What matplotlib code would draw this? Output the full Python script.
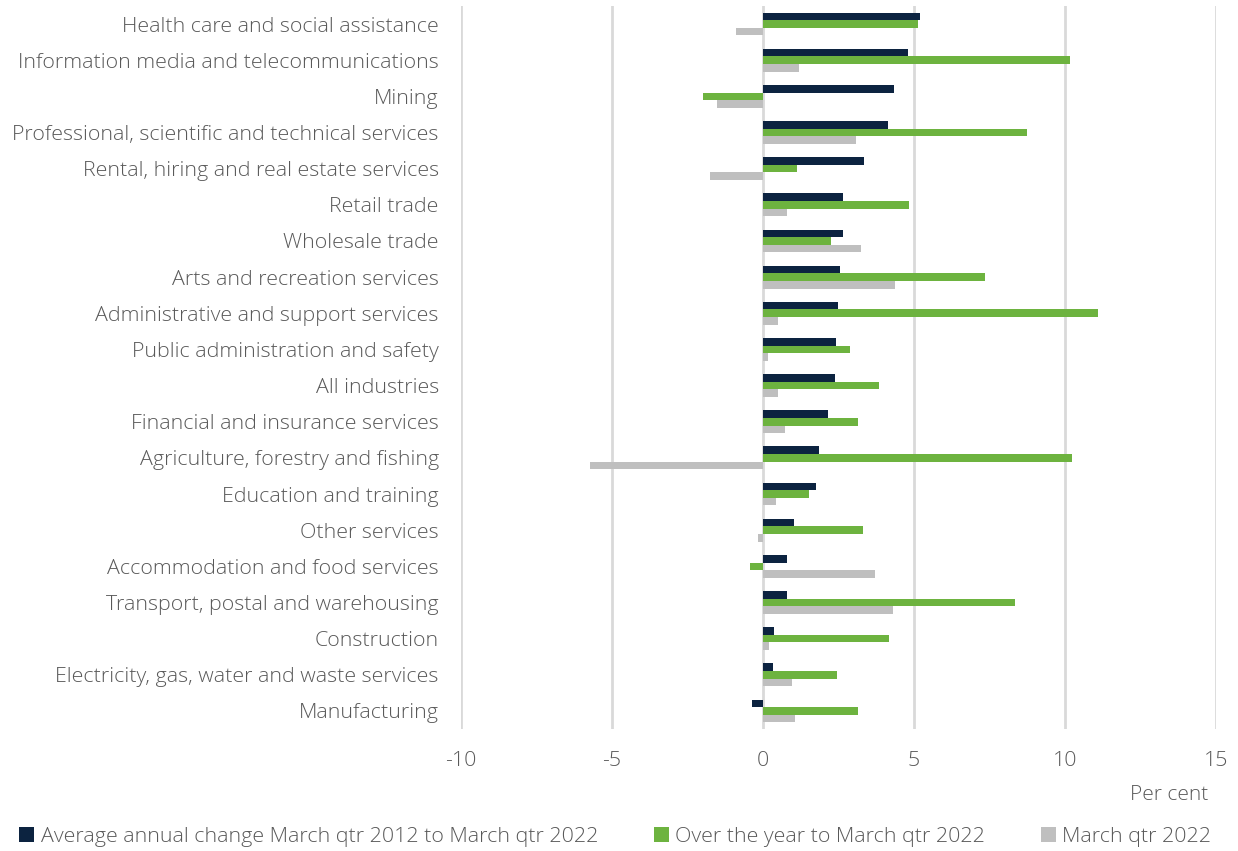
import matplotlib.pyplot as plt
import numpy as np

industries = [
    'Health care and social assistance',
    'Information media and telecommunications',
    'Mining',
    'Professional, scientific and technical services',
    'Rental, hiring and real estate services',
    'Retail trade',
    'Wholesale trade',
    'Arts and recreation services',
    'Administrative and support services',
    'Public administration and safety',
    'All industries',
    'Financial and insurance services',
    'Agriculture, forestry and fishing',
    'Education and training',
    'Other services',
    'Accommodation and food services',
    'Transport, postal and warehousing',
    'Construction',
    'Electricity, gas, water and waste services',
    'Manufacturing',
]

avg_annual = [5.19, 4.79, 4.35, 4.15, 3.35, 2.65, 2.64, 2.56, 2.49, 2.42,
              2.38, 2.16, 1.86, 1.77, 1.03, 0.81, 0.78, 0.37, 0.34, -0.37]
over_year = [5.12, 10.17, -1.98, 8.73, 1.14, 4.83, 2.26, 7.34, 11.1, 2.87,
             3.83, 3.15, 10.22, 1.51, 3.3, -0.44, 8.33, 4.18, 2.44, 3.15]
march_qtr = [-0.88, 1.2, -1.53, 3.09, -1.74, 0.81, 3.25, 4.38, 0.51, 0.18,
             0.51, 0.72, -5.72, 0.43, -0.16, 3.70, 4.29, 0.21, 0.95, 1.07]

series_names = ['Average annual change March qtr 2012 to March qtr 2022',
                'Over the year to March qtr 2022',
                'March qtr 2022']
colors = ['#0c2340', '#6db33f', '#bfbfbf']
text_col = '#595959'

plt.rcParams['font.family'] = ['Open Sans', 'DejaVu Sans']

fig = plt.figure(figsize=(12.38, 8.51), dpi=100)
# plot area spans x=-10..15 and the 20 category rows
ax = fig.add_axes([461 / 1238, 1 - 729 / 851, 755 / 1238, 723 / 851])

y = np.arange(len(industries))
h = 0.21
for i, (vals, name, c) in enumerate(zip([avg_annual, over_year, march_qtr], series_names, colors)):
    ax.barh(y + (i - 1) * h, vals, height=h, color=c, label=name, zorder=3)

ax.set_xlim(-10, 15)
ax.set_ylim(len(industries) - 0.5, -0.5)
ax.set_xticks([-10, -5, 0, 5, 10, 15])
ax.set_xticklabels(['-10', '-5', '0', '5', '10', '15'])
ax.set_yticks(y)
ax.set_yticklabels(industries)
ax.grid(axis='x', color='#d9d9d9', linewidth=2, zorder=0)
ax.tick_params(axis='both', length=0, labelsize=15.4, colors=text_col)
ax.tick_params(axis='x', pad=16)
ax.tick_params(axis='y', pad=16)
for lab in ax.get_xticklabels() + ax.get_yticklabels():
    lab.set_fontweight('light')
for s in ax.spines.values():
    s.set_visible(False)

fig.text(0.976, 0.0655, 'Per cent', ha='right', va='center', fontsize=15,
         color=text_col, fontweight='light')

handles, labels = ax.get_legend_handles_labels()
fig.legend(handles, labels, loc='center', bbox_to_anchor=(0.497, 0.0165), ncol=3,
           frameon=False, labelcolor=text_col, handlelength=0.7,
           handleheight=0.7, handletextpad=0.3, columnspacing=2.6,
           prop={'weight': 'light', 'size': 15.4})

fig.savefig('out.png', dpi=100)
